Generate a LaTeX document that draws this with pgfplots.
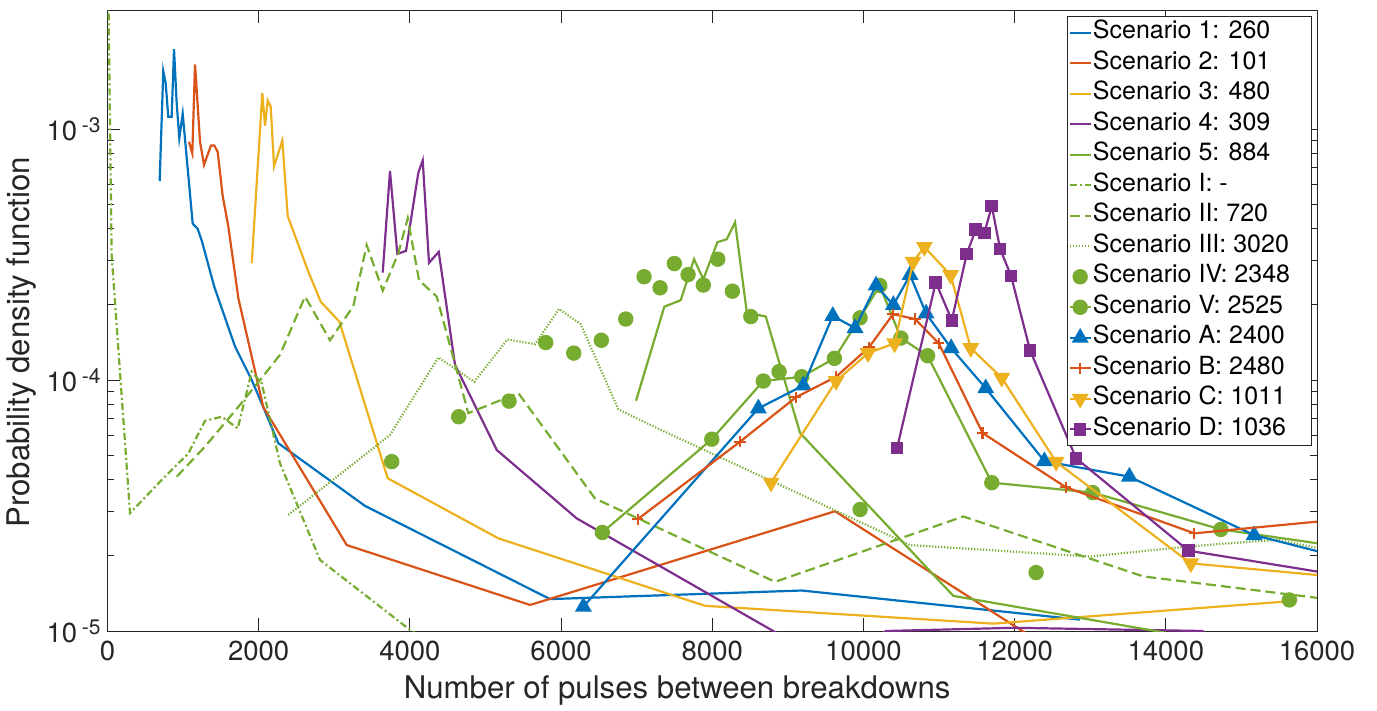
\documentclass[border=0pt]{standalone}
\usepackage{fontspec}
\setmainfont{TeX Gyre Heros}
\usepackage{pgfplots}
\pgfplotsset{compat=1.18}
\definecolor{mblue}{rgb}{0,0.447,0.741}
\definecolor{mred}{rgb}{0.85,0.325,0.098}
\definecolor{myel}{rgb}{0.929,0.694,0.125}
\definecolor{mpur}{rgb}{0.494,0.184,0.556}
\definecolor{mgrn}{rgb}{0.466,0.674,0.188}
\definecolor{mgrey}{rgb}{0.15,0.15,0.15}
\newcommand\LE[1]{\makebox[108pt][l]{#1}}
\newcommand\PW[1]{10\,\raisebox{0.55ex}{\fontsize{10.5}{12}\selectfont #1}}
\begin{document}
\begin{tikzpicture}
\path[use as bounding box] (-53.75pt,-40pt) rectangle (634.75pt,315.5pt);
\begin{axis}[
  at={(0pt,0pt)}, anchor=south west,
  scale only axis, width=604.75pt, height=310.5pt,
  xmin=0, xmax=16000, ymode=log, ymin=1e-5, ymax=2.98e-3,
  scaled x ticks=false,
  xtick={0,2000,4000,6000,8000,10000,12000,14000,16000},
  xticklabels={0,2000,4000,6000,8000,10000,12000,14000,16000},
  ytick={1e-5,1e-4,1e-3},
  yticklabels={\PW{-5},\PW{-4},\PW{-3}},
  tick align=inside,
  major tick length=6.5pt, minor tick length=3.5pt,
  axis line style={draw=mgrey, line width=0.5pt},
  every tick/.style={draw=mgrey, line width=0.5pt},
  ticklabel style={font=\fontsize{13.75}{16}\selectfont, text=mgrey},
  xticklabel style={yshift=-1.5pt},
  xlabel={Number of pulses between breakdowns},
  ylabel={Probability density function},
  xlabel style={font=\fontsize{15.6}{18}\selectfont, text=mgrey, at={(axis description cs:0.471,-0.109)}, anchor=base},
  ylabel style={font=\fontsize{15.6}{18}\selectfont, text=mgrey, at={(axis description cs:-0.071,0.465)}, anchor=center},
  clip marker paths=true,
  every axis plot/.append style={line width=1.1pt},
  legend image code/.code={\draw[mark repeat=2,mark phase=2,#1] plot coordinates {(0pt,0pt) (5.25pt,0pt) (10.5pt,0pt)};},
  legend cell align=left,
  legend style={at={(0.9956,0.9903)}, anchor=north east, draw=mgrey, line width=0.5pt, fill=white,
    font=\fontsize{12.5}{15}\selectfont, inner xsep=0.5pt, inner ysep=0.5pt, row sep=0pt,
    nodes={inner xsep=0.6pt, inner ysep=0pt, text height=10.5pt, text depth=4.75pt}},
]
% Scenario 1
\addplot[mblue, no marks] coordinates {
(690,6.2e-4) (738,1.70e-3) (770,1.52e-3) (804,1.12e-3) (849,1.12e-3) (880,2.08e-3)
(915,1.27e-3) (950,9.2e-4) (995,1.15e-3) (1127,4.2e-4) (1193,4.0e-4) (1246,3.6e-4)
(1413,2.35e-4) (1687,1.36e-4) (1908,1.0e-4) (2061,7.8e-5) (2260,5.6e-5) (3407,3.15e-5)
(5854,1.34e-5) (9184,1.45e-5) (12866,1.11e-5)};
\addlegendentry{\LE{Scenario 1: 260}}
% Scenario 2
\addplot[mred, no marks] coordinates {
(1078,8.9e-4) (1122,8.0e-4) (1158,1.81e-3) (1224,8.9e-4) (1277,7.2e-4) (1369,8.6e-4)
(1413,8.6e-4) (1458,8.1e-4) (1524,5.4e-4) (1598,4.1e-4) (1731,2.12e-4) (2061,7.8e-5)
(3165,2.2e-5) (5590,1.27e-5) (9625,3.0e-5) (12469,8.5e-6)};
\addlegendentry{\LE{Scenario 2: 101}}
% Scenario 3
\addplot[myel, no marks] coordinates {
(1908,2.92e-4) (2048,1.39e-3) (2084,1.03e-3) (2119,1.30e-3) (2159,1.23e-3) (2203,7.1e-4)
(2313,9.0e-4) (2384,4.5e-4) (2657,2.7e-4) (2821,2.05e-4) (3067,1.71e-4) (3707,4.06e-5)
(5170,2.34e-5) (7905,1.26e-5) (11719,1.07e-5) (15578,1.31e-5)};
\addlegendentry{\LE{Scenario 3: 480}}
% Scenario 4
\addplot[mpur, no marks] coordinates {
(3641,2.68e-4) (3737,6.8e-4) (3834,3.18e-4) (3949,3.27e-4) (4112,6.7e-4) (4170,7.5e-4)
(4253,2.93e-4) (4382,3.24e-4) (4597,1.15e-4) (5150,5.26e-5) (6207,2.81e-5) (9598,7.3e-6)
(10300,1.0e-5) (12000,1.03e-5) (14500,1.0e-5)};
\addlegendentry{\LE{Scenario 4: 309}}
% Scenario 5
\addplot[mgrn, no marks] coordinates {
(6992,8.27e-5) (7366,1.96e-4) (7583,2.08e-4) (7759,3.03e-4) (7882,2.52e-4) (8068,3.54e-4)
(8192,3.64e-4) (8302,4.25e-4) (8457,1.86e-4) (8708,1.79e-4) (9162,6.15e-5) (11190,1.38e-5)
(15117,8.6e-6)};
\addlegendentry{\LE{Scenario 5: 884}}
% Scenario I
\addplot[mgrn, no marks, dash pattern=on 3.5pt off 1.5pt on 1pt off 1.5pt] coordinates {
(0,6.6e-3) (55,3.15e-4) (298,2.95e-5) (717,4.0e-5) (1069,5.1e-5) (1290,6.88e-5)
(1511,7.14e-5) (1723,6.42e-5) (1908,1.08e-4) (2040,9.7e-5) (2282,4.66e-5) (2811,1.92e-5)
(4002,1.01e-5) (4400,8.5e-6)};
\addlegendentry{\LE{Scenario I: -}}
% Scenario II
\addplot[mgrn, no marks, dash pattern=on 5pt off 2.5pt] coordinates {
(916,4.12e-5) (1290,5.43e-5) (1731,7.82e-5) (2018,1.0e-4) (2282,1.26e-4) (2613,2.15e-4)
(2944,1.44e-4) (3252,1.97e-4) (3429,3.45e-4) (3641,2.27e-4) (3847,3.20e-4) (3972,4.41e-4)
(4121,2.50e-4) (4355,2.15e-4) (4773,7.38e-5) (5435,8.87e-5) (6450,3.37e-5) (8831,1.57e-5)
(11322,2.86e-5) (13704,1.65e-5) (16400,1.31e-5)};
\addlegendentry{\LE{Scenario II: 720}}
% Scenario III
\addplot[mgrn, no marks, dash pattern=on 0.6pt off 0.9pt] coordinates {
(2392,2.90e-5) (3737,6.04e-5) (4377,1.23e-4) (4853,9.84e-5) (5290,1.45e-4) (5656,1.39e-4)
(5973,1.92e-4) (6260,1.67e-4) (6758,7.64e-5) (7266,6.44e-5) (10617,2.20e-5) (12999,1.98e-5)
(14278,2.17e-5) (15469,2.31e-5) (16400,2.03e-5)};
\addlegendentry{\LE{Scenario III: 3020}}
% Scenario IV
\addplot[mgrn, only marks, mark=*, mark size=3.3pt, mark options={fill=mgrn, draw=mgrn}] coordinates {
(3760,4.73e-5) (4646,7.14e-5) (5312,8.24e-5) (5797,1.41e-4) (6168,1.28e-4) (6533,1.44e-4)
(6856,1.75e-4) (7098,2.58e-4) (7310,2.33e-4) (7499,2.91e-4) (7680,2.63e-4) (7882,2.39e-4)
(8073,3.03e-4) (8266,2.26e-4) (8510,1.79e-4) (8884,1.08e-4) (9956,3.05e-5) (12284,1.71e-5)
(15635,1.33e-5)};
\addlegendentry{\LE{Scenario IV: 2348}}
% Scenario V
\addplot[mgrn, mark=*, mark size=3.3pt, mark options={fill=mgrn, draw=mgrn, solid}] coordinates {
(6546,2.47e-5) (7994,5.81e-5) (8676,9.91e-5) (9184,1.03e-4) (9616,1.22e-4) (9956,1.77e-4)
(10216,2.38e-4) (10495,1.47e-4) (10849,1.25e-4) (11698,3.90e-5) (13034,3.56e-5) (14728,2.54e-5)
(16400,2.15e-5)};
\addlegendentry{\LE{Scenario V: 2525}}
% Scenario A
\addplot[mblue, mark=triangle*, mark size=3.8pt, mark options={fill=mblue, draw=mblue, solid}] coordinates {
(6295,1.25e-5) (8610,7.71e-5) (9205,9.51e-5) (9594,1.80e-4) (9889,1.61e-4) (10167,2.38e-4)
(10396,1.99e-4) (10617,2.62e-4) (10829,1.84e-4) (11160,1.34e-4) (11618,9.27e-5) (12394,4.75e-5)
(13518,4.12e-5) (15168,2.41e-5) (16400,1.94e-5)};
\addlegendentry{\LE{Scenario A: 2400}}
% Scenario B
\addplot[mred, mark=+, mark size=2.8pt, mark options={draw=mred, solid}] coordinates {
(7015,2.79e-5) (8368,5.68e-5) (9105,8.53e-5) (9638,1.03e-4) (10074,1.35e-4) (10392,1.83e-4)
(10683,1.75e-4) (10997,1.40e-4) (11576,6.15e-5) (12677,3.74e-5) (14378,2.45e-5) (16400,2.80e-5)};
\addlegendentry{\LE{Scenario B: 2480}}
% Scenario C
\addplot[myel, mark=triangle*, mark size=3.8pt, mark options={fill=myel, draw=myel, solid, rotate=180}] coordinates {
(8778,3.90e-5) (9638,9.91e-5) (10061,1.28e-4) (10412,1.40e-4) (10657,2.96e-4) (10806,3.39e-4)
(11153,2.62e-4) (11420,1.34e-4) (11830,1.02e-4) (12549,4.72e-5) (14331,1.86e-5) (16400,1.63e-5)};
\addlegendentry{\LE{Scenario C: 1011}}
% Scenario D
\addplot[mpur, mark=square*, mark size=2.6pt, mark options={fill=mpur, draw=mpur, solid}] coordinates {
(10445,5.36e-5) (10957,2.45e-4) (11169,1.73e-4) (11367,3.18e-4) (11486,3.98e-4) (11600,3.86e-4)
(11698,4.93e-4) (11808,3.33e-4) (11953,2.60e-4) (12205,1.31e-4) (12813,4.88e-5) (14299,2.09e-5)
(16400,1.65e-5)};
\addlegendentry{\LE{Scenario D: 1036}}
\end{axis}
\end{tikzpicture}
\end{document}
